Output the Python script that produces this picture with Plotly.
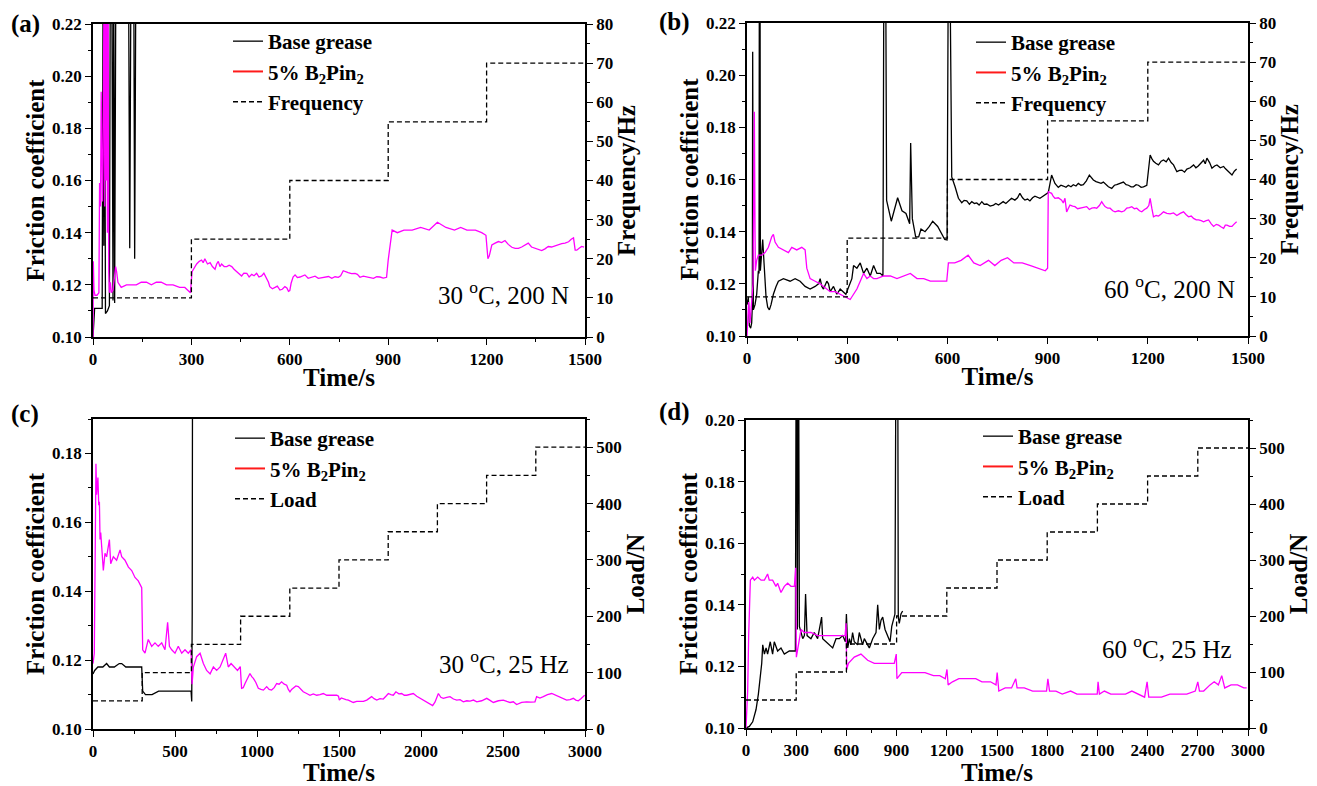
import plotly.graph_objects as go

W, H = 1317, 786          # browser window
OFF = 8                   # default page margin of the html body
FW, FH = W - OFF, H - OFF # figure size so that it fits the window

# ---------------- data (time in s, friction coefficient) ----------------
A_BASE = [(0, 0.100), (2, 0.108), (5, 0.111), (15, 0.111), (28, 0.111), (31, 0.250), (33, 0.135), (35, 0.250),
          (38, 0.109), (44, 0.110), (50, 0.112), (53, 0.250), (57, 0.250), (61, 0.114), (63, 0.250), (66, 0.113),
          (70, 0.250), (108, 0.250), (112, 0.134), (116, 0.250), (124, 0.250), (127, 0.130), (131, 0.250), (140, 0.250)]
A_B2 = [(0, 0.100), (1, 0.129), (3, 0.118), (6, 0.116), (12, 0.116), (18, 0.117), (20, 0.159), (23, 0.150),
        (25, 0.194), (27, 0.160), (29, 0.152), (31, 0.170), (34, 0.250), (36, 0.150), (38, 0.250), (40, 0.160),
        (42, 0.250), (44, 0.140), (46, 0.250), (48, 0.125), (50, 0.117), (53, 0.121), (56, 0.117), (61, 0.118),
        (66, 0.124), (69, 0.127), (72, 0.125), (76, 0.121), (86, 0.119), (102, 0.120), (117, 0.120), (132, 0.120),
        (147, 0.121), (163, 0.121), (178, 0.120), (193, 0.121), (208, 0.121), (224, 0.120), (244, 0.120),
        (264, 0.119), (280, 0.119), (290, 0.118), (297, 0.117), (302, 0.125), (310, 0.127), (316, 0.128),
        (324, 0.129), (331, 0.1295), (336, 0.1285), (341, 0.130), (349, 0.128), (357, 0.1285), (364, 0.127),
        (372, 0.126), (377, 0.128), (382, 0.129), (387, 0.127), (392, 0.128), (400, 0.127), (408, 0.127),
        (415, 0.1275), (423, 0.127), (430, 0.126), (438, 0.125), (445, 0.124), (453, 0.1234), (460, 0.1245),
        (469, 0.1244), (476, 0.123), (484, 0.124), (491, 0.1235), (499, 0.1244), (506, 0.123), (514, 0.1234),
        (521, 0.1245), (529, 0.1225), (535, 0.121), (539, 0.1193), (547, 0.1185), (555, 0.119), (562, 0.1195),
        (570, 0.118), (577, 0.1183), (585, 0.1193), (591, 0.1188), (596, 0.1175), (600, 0.1178), (604, 0.1206),
        (610, 0.123), (616, 0.1238), (623, 0.1228), (631, 0.123), (638, 0.1235), (646, 0.1238), (656, 0.1225),
        (667, 0.1229), (677, 0.1233), (687, 0.1225), (697, 0.1228), (707, 0.1229), (718, 0.1232), (728, 0.1225),
        (738, 0.1231), (748, 0.1229), (755, 0.1235), (763, 0.1254), (770, 0.125), (778, 0.1247), (788, 0.1243),
        (799, 0.1244), (806, 0.124), (814, 0.1229), (824, 0.1233), (834, 0.123), (845, 0.1228), (855, 0.1225),
        (865, 0.1231), (875, 0.123), (885, 0.1226), (895, 0.1229), (900, 0.1295), (906, 0.136), (912, 0.141),
        (928, 0.140), (948, 0.141), (973, 0.141), (999, 0.142), (1025, 0.141), (1050, 0.144), (1076, 0.142),
        (1102, 0.141), (1121, 0.142), (1140, 0.141), (1166, 0.141), (1185, 0.140), (1198, 0.139), (1201, 0.132),
        (1204, 0.130), (1208, 0.131), (1216, 0.1353), (1226, 0.136), (1236, 0.1366), (1246, 0.1362),
        (1256, 0.137), (1266, 0.1355), (1277, 0.1344), (1287, 0.134), (1297, 0.134), (1307, 0.1345),
        (1317, 0.1352), (1327, 0.136), (1337, 0.1345), (1348, 0.134), (1358, 0.1335), (1368, 0.1331),
        (1378, 0.1338), (1388, 0.1347), (1398, 0.1345), (1409, 0.135), (1419, 0.1352), (1429, 0.1358),
        (1439, 0.136), (1450, 0.1365), (1458, 0.1375), (1465, 0.138), (1470, 0.1333), (1475, 0.1333),
        (1482, 0.134), (1490, 0.1347), (1497, 0.1345)]

B_BASE = [(0, 0.112), (4, 0.115), (7, 0.104), (11, 0.103), (14, 0.105), (16, 0.112), (17, 0.209), (19, 0.110),
          (24, 0.112), (29, 0.116), (34, 0.125), (36, 0.124), (37, 0.250), (39, 0.250), (40, 0.125), (44, 0.134),
          (47, 0.137), (51, 0.128), (57, 0.115), (62, 0.111), (67, 0.110), (72, 0.112), (79, 0.116), (87, 0.119),
          (94, 0.121), (109, 0.122), (129, 0.121), (144, 0.122), (159, 0.121), (174, 0.119), (189, 0.118),
          (204, 0.119), (214, 0.120), (219, 0.122), (224, 0.119), (229, 0.118), (239, 0.121), (244, 0.120),
          (249, 0.117), (259, 0.119), (269, 0.116), (279, 0.118), (289, 0.117), (296, 0.116), (302, 0.118),
          (309, 0.120), (314, 0.122), (319, 0.127), (329, 0.126), (339, 0.128), (349, 0.124), (359, 0.126),
          (369, 0.123), (379, 0.127), (389, 0.124), (399, 0.124), (407, 0.123), (410, 0.250), (415, 0.250),
          (418, 0.152), (432, 0.144), (451, 0.153), (464, 0.148), (476, 0.147), (487, 0.143), (490, 0.174),
          (495, 0.145), (505, 0.138), (514, 0.138), (521, 0.141), (533, 0.140), (546, 0.142), (556, 0.144),
          (571, 0.142), (584, 0.139), (592, 0.137), (599, 0.1368), (603, 0.250), (607, 0.250), (613, 0.161),
          (623, 0.1572), (633, 0.1528), (643, 0.1511), (650, 0.152), (658, 0.1518), (666, 0.1505), (673, 0.1515),
          (681, 0.1508), (688, 0.151), (695, 0.1502), (703, 0.1515), (710, 0.1505), (718, 0.1506), (728, 0.1498),
          (738, 0.1502), (745, 0.1508), (753, 0.1502), (760, 0.151), (767, 0.1515), (775, 0.1508), (782, 0.1515),
          (792, 0.1528), (802, 0.1521), (810, 0.153), (817, 0.1547), (825, 0.153), (832, 0.1521), (840, 0.1525),
          (847, 0.1518), (855, 0.153), (862, 0.1536), (870, 0.153), (877, 0.1528), (885, 0.1535), (892, 0.154),
          (902, 0.155), (912, 0.1617), (922, 0.1585), (932, 0.157), (940, 0.1578), (947, 0.1575), (955, 0.157),
          (962, 0.1578), (970, 0.1572), (977, 0.158), (985, 0.1575), (992, 0.1585), (1000, 0.1578), (1007, 0.158),
          (1016, 0.1595), (1025, 0.1617), (1031, 0.1605), (1037, 0.1598), (1045, 0.1592), (1052, 0.159),
          (1060, 0.1585), (1067, 0.159), (1075, 0.158), (1082, 0.1572), (1092, 0.1566), (1100, 0.1578),
          (1107, 0.158), (1117, 0.1585), (1127, 0.159), (1135, 0.158), (1142, 0.1578), (1150, 0.1572),
          (1157, 0.1572), (1165, 0.158), (1172, 0.1578), (1180, 0.157), (1187, 0.1572), (1197, 0.1578),
          (1202, 0.163), (1207, 0.1694), (1212, 0.168), (1217, 0.167), (1224, 0.1662), (1232, 0.1656),
          (1240, 0.167), (1247, 0.1675), (1255, 0.1668), (1262, 0.1682), (1270, 0.1665), (1277, 0.1656),
          (1287, 0.163), (1295, 0.1635), (1302, 0.1636), (1310, 0.1628), (1317, 0.164), (1327, 0.1645),
          (1337, 0.1656), (1344, 0.1645), (1351, 0.1652), (1359, 0.1665), (1367, 0.1674), (1372, 0.166),
          (1377, 0.1682), (1385, 0.1665), (1392, 0.1643), (1400, 0.1652), (1407, 0.1656), (1417, 0.1645),
          (1427, 0.165), (1432, 0.1642), (1437, 0.1635), (1445, 0.1625), (1452, 0.1617), (1459, 0.1632),
          (1466, 0.164)]
B_B2 = [(0, 0.100), (2, 0.107), (5, 0.113), (9, 0.105), (12, 0.110), (15, 0.118), (18, 0.120), (20, 0.150),
        (22, 0.186), (24, 0.140), (25, 0.125), (29, 0.129), (34, 0.131), (44, 0.131), (54, 0.132), (64, 0.134),
        (74, 0.138), (79, 0.139), (84, 0.136), (94, 0.134), (109, 0.133), (124, 0.132), (134, 0.134), (149, 0.133),
        (164, 0.134), (174, 0.133), (179, 0.126), (189, 0.122), (204, 0.121), (219, 0.120), (229, 0.119),
        (239, 0.118), (249, 0.117), (264, 0.117), (279, 0.116), (294, 0.115), (309, 0.114), (319, 0.116),
        (329, 0.118), (339, 0.121), (349, 0.124), (359, 0.122), (369, 0.123), (379, 0.122), (389, 0.122),
        (409, 0.123), (429, 0.123), (449, 0.122), (469, 0.123), (489, 0.124), (509, 0.122), (529, 0.122),
        (549, 0.121), (569, 0.121), (598, 0.121), (603, 0.128), (622, 0.128), (641, 0.129), (662, 0.131),
        (679, 0.128), (698, 0.127), (723, 0.129), (742, 0.127), (761, 0.129), (780, 0.130), (799, 0.128),
        (824, 0.128), (849, 0.127), (874, 0.126), (893, 0.125), (900, 0.126), (902, 0.1553), (907, 0.155),
        (912, 0.1547), (917, 0.1535), (922, 0.1528), (932, 0.153), (942, 0.1521), (947, 0.151), (952, 0.1528),
        (957, 0.1476), (962, 0.149), (967, 0.1502), (975, 0.1498), (982, 0.1496), (990, 0.1488), (997, 0.149),
        (1007, 0.1495), (1017, 0.1496), (1025, 0.1485), (1032, 0.149), (1040, 0.1492), (1047, 0.149),
        (1055, 0.150), (1062, 0.1515), (1067, 0.1505), (1072, 0.1496), (1080, 0.149), (1087, 0.149),
        (1095, 0.148), (1102, 0.1476), (1112, 0.148), (1122, 0.1476), (1130, 0.148), (1137, 0.149),
        (1145, 0.1492), (1152, 0.1496), (1160, 0.1488), (1167, 0.149), (1175, 0.148), (1182, 0.1476),
        (1190, 0.1485), (1197, 0.149), (1203, 0.150), (1207, 0.1528), (1212, 0.149), (1217, 0.1457),
        (1225, 0.1462), (1232, 0.146), (1240, 0.1468), (1247, 0.1476), (1257, 0.147), (1267, 0.1468),
        (1277, 0.1472), (1287, 0.1462), (1297, 0.147), (1307, 0.1476), (1315, 0.1465), (1322, 0.1457),
        (1330, 0.146), (1337, 0.1451), (1345, 0.1445), (1352, 0.1445), (1360, 0.1442), (1367, 0.1438),
        (1375, 0.1442), (1382, 0.1445), (1390, 0.143), (1397, 0.142), (1405, 0.1428), (1412, 0.1425),
        (1420, 0.1418), (1427, 0.1413), (1432, 0.1425), (1437, 0.1425), (1445, 0.142), (1452, 0.142),
        (1459, 0.143), (1466, 0.1438)]

C_BASE = [(0, 0.116), (10, 0.117), (30, 0.118), (60, 0.118), (83, 0.119), (100, 0.118), (130, 0.118),
          (160, 0.119), (175, 0.119), (200, 0.118), (240, 0.118), (270, 0.118), (297, 0.118), (303, 0.111),
          (320, 0.110), (360, 0.110), (400, 0.111), (450, 0.111), (500, 0.111), (550, 0.111), (598, 0.111),
          (602, 0.108), (605, 0.134), (608, 0.250)]
C_B2 = [(0, 0.119), (8, 0.122), (14, 0.155), (18, 0.177), (22, 0.168), (26, 0.170), (30, 0.173), (35, 0.165),
        (39, 0.166), (43, 0.155), (47, 0.157), (53, 0.153), (63, 0.146), (73, 0.151), (83, 0.150), (100, 0.155),
        (108, 0.148), (124, 0.150), (144, 0.149), (165, 0.152), (175, 0.150), (195, 0.149), (216, 0.147),
        (236, 0.146), (256, 0.144), (276, 0.143), (297, 0.141), (303, 0.123), (317, 0.122), (337, 0.126),
        (358, 0.124), (378, 0.125), (398, 0.124), (419, 0.125), (439, 0.123), (455, 0.131), (466, 0.124),
        (480, 0.123), (500, 0.122), (520, 0.124), (541, 0.122), (561, 0.123), (581, 0.122), (598, 0.123),
        (604, 0.113), (612, 0.118), (632, 0.121), (653, 0.122), (673, 0.119), (693, 0.117), (714, 0.116),
        (734, 0.118), (754, 0.117), (775, 0.118), (809, 0.122), (825, 0.118), (842, 0.119), (881, 0.117),
        (893, 0.118), (898, 0.1181), (906, 0.1118), (916, 0.112), (927, 0.1132), (942, 0.1148), (957, 0.1161),
        (968, 0.1152), (978, 0.1147), (993, 0.1135), (1008, 0.1118), (1024, 0.1115), (1039, 0.1113),
        (1049, 0.1118), (1059, 0.1123), (1074, 0.1115), (1089, 0.1113), (1105, 0.112), (1120, 0.1132),
        (1135, 0.113), (1150, 0.1137), (1166, 0.113), (1181, 0.1127), (1191, 0.1115), (1201, 0.1108),
        (1211, 0.1115), (1221, 0.1118), (1237, 0.1125), (1252, 0.1123), (1267, 0.1115), (1282, 0.1108),
        (1303, 0.1103), (1323, 0.1098), (1343, 0.1102), (1364, 0.1098), (1384, 0.110), (1404, 0.1103),
        (1425, 0.1098), (1445, 0.1098), (1466, 0.110), (1486, 0.1098), (1497, 0.1095), (1502, 0.1084),
        (1514, 0.109), (1526, 0.1087), (1542, 0.1085), (1557, 0.1084), (1572, 0.108), (1587, 0.1077),
        (1608, 0.108), (1628, 0.1079), (1649, 0.108), (1669, 0.1084), (1684, 0.109), (1699, 0.1094),
        (1714, 0.1088), (1730, 0.1084), (1750, 0.1088), (1770, 0.1087), (1786, 0.1095), (1801, 0.1103),
        (1816, 0.110), (1831, 0.1098), (1847, 0.1108), (1865, 0.1102), (1882, 0.1103), (1898, 0.1098),
        (1913, 0.1098), (1933, 0.110), (1953, 0.1103), (1974, 0.1095), (1994, 0.1089), (2015, 0.1085),
        (2035, 0.1077), (2055, 0.1072), (2071, 0.1068), (2085, 0.1078), (2096, 0.1094), (2106, 0.1103),
        (2121, 0.1092), (2136, 0.1089), (2157, 0.1092), (2177, 0.1094), (2198, 0.1087), (2218, 0.1084),
        (2238, 0.1085), (2258, 0.1079), (2279, 0.1082), (2299, 0.1081), (2320, 0.1084), (2340, 0.1079),
        (2370, 0.1082), (2401, 0.1089), (2421, 0.1083), (2441, 0.1077), (2472, 0.1082), (2502, 0.1084),
        (2523, 0.108), (2543, 0.1077), (2563, 0.1079), (2583, 0.1071), (2614, 0.1077), (2644, 0.1079),
        (2670, 0.1078), (2695, 0.1079), (2705, 0.1094), (2725, 0.109), (2746, 0.1094), (2771, 0.110),
        (2797, 0.1103), (2822, 0.1098), (2848, 0.1094), (2868, 0.109), (2888, 0.1084), (2909, 0.1085),
        (2929, 0.1089), (2944, 0.1084), (2959, 0.1082), (2975, 0.1088), (2990, 0.1094), (2998, 0.1098)]

D_BASE = [(0, 0.100), (20, 0.1005), (40, 0.102), (60, 0.106), (74, 0.111), (86, 0.117), (94, 0.121),
          (100, 0.127), (110, 0.124), (120, 0.126), (129, 0.124), (145, 0.128), (159, 0.124), (169, 0.128),
          (189, 0.125), (209, 0.126), (229, 0.124), (259, 0.125), (279, 0.125), (295, 0.125), (301, 0.250),
          (307, 0.132), (313, 0.250), (319, 0.133), (329, 0.131), (339, 0.129), (349, 0.130), (356, 0.1435),
          (365, 0.130), (388, 0.129), (408, 0.131), (428, 0.129), (452, 0.136), (458, 0.129), (478, 0.128),
          (498, 0.127), (518, 0.126), (538, 0.129), (558, 0.129), (578, 0.130), (594, 0.128), (600, 0.137),
          (608, 0.126), (618, 0.129), (627, 0.127), (637, 0.131), (647, 0.128), (667, 0.127), (677, 0.131),
          (697, 0.127), (707, 0.129), (727, 0.127), (737, 0.126), (757, 0.129), (777, 0.131), (787, 0.140),
          (797, 0.132), (807, 0.135), (817, 0.136), (831, 0.132), (847, 0.130), (861, 0.128), (871, 0.133),
          (882, 0.136), (890, 0.137), (898, 0.250), (906, 0.250), (910, 0.136), (916, 0.134), (926, 0.137),
          (936, 0.138)]
D_B2 = [(0, 0.100), (10, 0.112), (16, 0.130), (26, 0.148), (40, 0.149), (50, 0.148), (70, 0.149), (90, 0.148),
        (110, 0.148), (129, 0.150), (139, 0.148), (159, 0.148), (179, 0.146), (189, 0.147), (209, 0.144),
        (229, 0.146), (249, 0.147), (269, 0.146), (289, 0.146), (297, 0.152), (301, 0.123), (309, 0.126),
        (319, 0.129), (329, 0.132), (349, 0.131), (388, 0.131), (428, 0.130), (468, 0.130), (508, 0.130),
        (548, 0.130), (592, 0.130), (598, 0.134), (602, 0.119), (612, 0.121), (627, 0.122), (647, 0.123),
        (687, 0.124), (707, 0.123), (727, 0.122), (767, 0.121), (807, 0.121), (847, 0.121), (886, 0.121),
        (898, 0.124), (902, 0.116), (931, 0.118), (969, 0.118), (1019, 0.118), (1070, 0.118), (1120, 0.117),
        (1158, 0.117), (1191, 0.116), (1201, 0.119), (1208, 0.114), (1234, 0.115), (1272, 0.116), (1322, 0.116),
        (1373, 0.116), (1410, 0.115), (1461, 0.115), (1494, 0.114), (1501, 0.118), (1511, 0.112), (1549, 0.113),
        (1587, 0.113), (1612, 0.116), (1620, 0.113), (1663, 0.113), (1713, 0.112), (1764, 0.112), (1796, 0.112),
        (1804, 0.116), (1814, 0.112), (1852, 0.112), (1890, 0.111), (1940, 0.112), (1978, 0.111), (2029, 0.111),
        (2079, 0.111), (2099, 0.111), (2104, 0.115), (2112, 0.111), (2142, 0.112), (2180, 0.111), (2230, 0.111),
        (2268, 0.111), (2306, 0.112), (2344, 0.111), (2382, 0.110), (2397, 0.115), (2407, 0.110), (2445, 0.110),
        (2483, 0.110), (2533, 0.111), (2584, 0.111), (2634, 0.111), (2685, 0.112), (2700, 0.115), (2710, 0.112),
        (2735, 0.112), (2773, 0.114), (2798, 0.115), (2823, 0.114), (2843, 0.117), (2861, 0.113), (2899, 0.114),
        (2937, 0.114), (2975, 0.113), (2992, 0.113)]

# step programmes (right axes)
FREQ_T = [0, 300, 600, 900, 1200, 1500]
FREQ_HZ = [10, 25, 40, 55, 70, 70]
LOAD_T = [0, 300, 600, 900, 1200, 1500, 1800, 2100, 2400, 2700, 3000]
LOAD_N = [50, 100, 150, 200, 250, 300, 350, 400, 450, 500, 500]

PANEL_LABELS = ["(a)", "(b)", "(c)", "(d)"]
CONDITIONS = ["30 <sup>o</sup>C, 200 N", "60 <sup>o</sup>C, 200 N", "30 <sup>o</sup>C, 25 Hz", "60 <sup>o</sup>C, 25 Hz"]
NAME_BASE = "<b>Base grease</b>"
NAME_B2 = "<b>5% B<sub>2</sub>Pin<sub>2</sub></b>"

# ---------------- styling / layout ----------------
SERIF = "Liberation Serif"


def px(x):
    """window pixel x -> paper fraction"""
    return (x - OFF) / FW


def py(y):
    """window pixel y -> paper fraction"""
    return 1 - (y - OFF) / FH


panels = [
    dict(box=(93, 585, 24, 337), xmax=1500, xdt=300, ylim=(0.10, 0.22), rlim=(0, 80), rdt=10,
         rtitle="Frequency/Hz", sname="Frequency", base=A_BASE, b2=A_B2,
         st=FREQ_T, sv=FREQ_HZ, leg=(228, 21), lab=(25, 24), cond=(571, 293)),
    dict(box=(747, 1248, 23, 336), xmax=1500, xdt=300, ylim=(0.10, 0.22), rlim=(0, 80), rdt=10,
         rtitle="Frequency/Hz", sname="Frequency", base=B_BASE, b2=B_B2,
         st=FREQ_T, sv=FREQ_HZ, leg=(971, 22), lab=(674, 22), cond=(1237, 287)),
    dict(box=(93, 585, 419, 729), xmax=3000, xdt=500, ylim=(0.10, 0.19), rlim=(0, 550), rdt=100,
         rtitle="Load/N", sname="Load", base=C_BASE, b2=C_B2,
         st=LOAD_T, sv=LOAD_N, leg=(230, 418), lab=(25, 414), cond=(571, 662)),
    dict(box=(746, 1248, 420, 728), xmax=3000, xdt=300, ylim=(0.10, 0.20), rlim=(0, 550), rdt=100,
         rtitle="Load/N", sname="Load", base=D_BASE, b2=D_B2,
         st=LOAD_T, sv=LOAD_N, leg=(978, 416), lab=(674, 412), cond=(1234, 647)),
]

fig = go.Figure()
layout = dict(width=FW, height=FH, margin=dict(l=0, r=0, t=0, b=0, autoexpand=False), paper_bgcolor="white",
              plot_bgcolor="white", showlegend=True, font=dict(family=SERIF, color="black"))
annotations = []

tickfont = dict(family=SERIF, size=17, color="black", weight="bold")
titlefont = dict(family=SERIF, size=25, color="black")
axis_common = dict(showline=True, linecolor="black", linewidth=1.5, ticks="outside", ticklen=6,
                   tickwidth=1.4, tickcolor="black", showgrid=False, zeroline=False, tickfont=tickfont,
                   tickmode="linear", automargin=False)

for i, p in enumerate(panels):
    n = i + 1
    xname = "x" if n == 1 else f"x{n}"
    yl = "y" if n == 1 else f"y{2 * n - 1}"
    yr = f"y{2 * n}"
    legname = "legend" if n == 1 else f"legend{n}"
    x0, x1, y0, y1 = p["box"]

    bt = [a for a, b in p["base"]]
    bf = [b for a, b in p["base"]]
    mt = [a for a, b in p["b2"]]
    mf = [b for a, b in p["b2"]]

    fig.add_trace(go.Scatter(x=bt, y=bf, mode="lines", line=dict(color="black", width=1.3),
                             name=NAME_BASE, xaxis=xname, yaxis=yl, legend=legname, legendgroup=f"b{n}"))
    fig.add_trace(go.Scatter(x=[None], y=[None], mode="lines", line=dict(color="#ff1a1a", width=2),
                             name=NAME_B2, xaxis=xname, yaxis=yl, legend=legname, legendgroup=f"m{n}"))
    fig.add_trace(go.Scatter(x=mt, y=mf, mode="lines", line=dict(color="#ff00ff", width=1.3),
                             name=NAME_B2, xaxis=xname, yaxis=yl, showlegend=False))
    fig.add_trace(go.Scatter(x=p["st"], y=p["sv"], mode="lines", line_shape="hv",
                             line=dict(color="black", width=1.3, dash="5px,3px"),
                             name=f"<b>{p['sname']}</b>", xaxis=xname, yaxis=yr, legend=legname,
                             legendgroup=f"s{n}"))

    layout["xaxis" if n == 1 else f"xaxis{n}"] = dict(
        axis_common, domain=[px(x0), px(x1)], anchor=yl, range=[0, p["xmax"]], tick0=0, dtick=p["xdt"],
        mirror=True,
        minor=dict(ticks="outside", ticklen=3.5, tickwidth=1.2, tickcolor="black", dtick=p["xdt"] / 2, tick0=0),
        title=dict(text="<b>Time/s</b>", font=titlefont, standoff=0))
    layout["yaxis" if n == 1 else f"yaxis{2 * n - 1}"] = dict(
        axis_common, domain=[py(y1), py(y0)], anchor=xname, range=list(p["ylim"]), tick0=0.10, dtick=0.02,
        tickformat=".2f",
        minor=dict(ticks="outside", ticklen=3.5, tickwidth=1.2, tickcolor="black", dtick=0.01, tick0=0.10),
        title=dict(text="<b>Friction coefficient</b>", font=titlefont, standoff=0))
    layout[f"yaxis{2 * n}"] = dict(
        axis_common, overlaying=yl, side="right", anchor=xname, range=list(p["rlim"]), tick0=0, dtick=p["rdt"],
        minor=dict(ticks="outside", ticklen=3.5, tickwidth=1.2, tickcolor="black", dtick=p["rdt"] / 2, tick0=0),
        title=dict(text=f"<b>{p['rtitle']}</b>", font=titlefont, standoff=1))
    lx, ly = p["leg"]
    layout[legname] = dict(x=px(lx), y=py(ly), xanchor="left", yanchor="top", bgcolor="rgba(0,0,0,0)",
                           font=dict(family=SERIF, size=21, color="black"),
                           tracegroupgap=0, itemwidth=30, borderwidth=0)

    annotations.append(dict(text=f"<b>{PANEL_LABELS[i]}</b>", x=px(p["lab"][0]), y=py(p["lab"][1]),
                            xref="paper", yref="paper", showarrow=False, xanchor="center", yanchor="middle",
                            font=dict(family=SERIF, size=25, color="black")))
    annotations.append(dict(text=CONDITIONS[i], x=px(p["cond"][0]), y=py(p["cond"][1]), xref="paper",
                            yref="paper", showarrow=False, xanchor="right", yanchor="middle",
                            font=dict(family=SERIF, size=25, color="black")))

layout["annotations"] = annotations
fig.update_layout(**layout)
fig.write_html("out.html")
